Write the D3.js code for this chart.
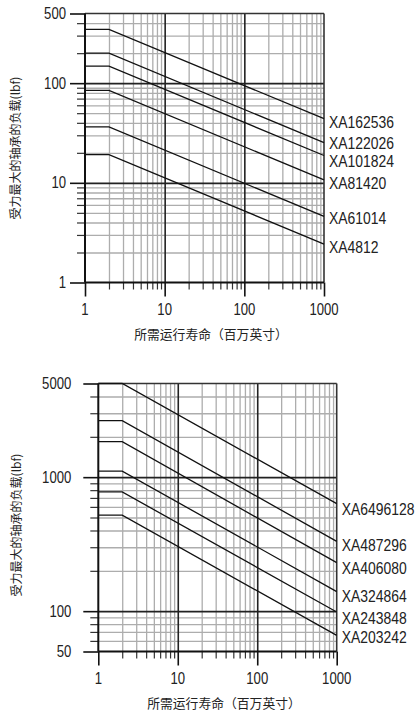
<!DOCTYPE html>
<html><head><meta charset="utf-8">
<script src="https://cdn.jsdelivr.net/npm/d3@7"></script>
<style>
body{margin:0;background:#fff;}
svg{display:block;}
</style></head><body>
<svg id="c" width="420" height="712"></svg>
<script>
// ---- data ----
const lifeTicks = [1, 10, 100, 1000];
const lifeTickLabels = ["1", "10", "100", "1000"];
const lifeBreaks = [1, 2, 1000]; // start, knee, end of each curve (million inches)

const topNames = ["XA162536", "XA122026", "XA101824", "XA81420", "XA61014", "XA4812"];
const topFlat = [346, 200, 148, 84.5, 36.5, 19.2];
const topEnd = [44, 25.3, 18.8, 10.7, 4.6, 2.43];
const topYTicks = [1, 10, 100, 500];
const topYTickLabels = ["1", "10", "100", "500"];

const botNames = ["XA6496128", "XA487296", "XA406080", "XA324864", "XA243848", "XA203242"];
const botFlat = [5000, 2640, 1840, 1110, 776, 520];
const botEnd = [635, 332, 230, 140, 98.5, 66];
const botYTicks = [50, 100, 1000, 5000];
const botYTickLabels = ["50", "100", "1000", "5000"];

const xTitle = "所需运行寿命（百万英寸）";
const yTitle = "受力最大的轴承的负载(lbf)";

// ---- drawing ----
const svg = d3.select("#c");
const NUM_FONT = "'Liberation Sans',Arial,sans-serif";
const CJK_FONT = "'Noto Sans CJK SC',sans-serif";
const NARROW = 0.82;

function narrowText(g, px, py, txt, size, anchor) {
  return g.append("text")
    .attr("transform", `translate(${px},${py}) scale(${NARROW},1)`)
    .attr("text-anchor", anchor).attr("dominant-baseline", "central")
    .attr("font-family", NUM_FONT).attr("font-size", size).attr("fill", "#222").text(txt);
}

function drawChart(cfg) {
  const g = svg.append("g");
  const x = d3.scaleLog().domain([1, 1000]).range([cfg.x0, cfg.x1]);
  const y = d3.scaleLog().domain(cfg.yDomain).range([cfg.y0, cfg.y1]);
  const W = cfg.x1 - cfg.x0, H = cfg.y0 - cfg.y1;
  const xMinor = x.ticks().filter(v => !lifeTicks.includes(v));
  const yMinor = y.ticks().filter(v => !cfg.yTicks.includes(v));
  const xMajorInner = lifeTicks.slice(1, -1);
  const yMajorInner = cfg.yTicks.slice(1, -1);

  function style(sel, color, w) {
    sel.select(".domain").remove();
    sel.selectAll("line").attr("stroke", color).attr("stroke-width", w);
    sel.selectAll("text").remove();
  }
  // minor grid
  g.append("g").attr("transform", `translate(0,${cfg.y0})`)
    .call(d3.axisBottom(x).tickValues(xMinor).tickSize(-H).tickFormat(""))
    .call(s => style(s, "#adadad", 1.3));
  g.append("g").attr("transform", `translate(${cfg.x0},0)`)
    .call(d3.axisLeft(y).tickValues(yMinor).tickSize(-W).tickFormat(""))
    .call(s => style(s, "#adadad", 1.3));
  // minor outer ticks
  g.append("g").attr("transform", `translate(0,${cfg.y0})`)
    .call(d3.axisBottom(x).tickValues(xMinor).tickSize(7).tickFormat(""))
    .call(s => style(s, "#333", 1.2));
  g.append("g").attr("transform", `translate(${cfg.x0},0)`)
    .call(d3.axisLeft(y).tickValues(yMinor).tickSize(8).tickFormat(""))
    .call(s => style(s, "#333", 1.2));
  // major grid
  g.append("g").attr("transform", `translate(0,${cfg.y0})`)
    .call(d3.axisBottom(x).tickValues(xMajorInner).tickSize(-H).tickFormat(""))
    .call(s => style(s, "#222", 1.6));
  g.append("g").attr("transform", `translate(${cfg.x0},0)`)
    .call(d3.axisLeft(y).tickValues(yMajorInner).tickSize(-W).tickFormat(""))
    .call(s => style(s, "#222", 1.6));
  // frame
  g.append("line").attr("x1", cfg.x0).attr("x2", cfg.x1).attr("y1", cfg.y1).attr("y2", cfg.y1)
    .attr("stroke", "#333").attr("stroke-width", 1.6);
  g.append("line").attr("x1", cfg.x1).attr("x2", cfg.x1).attr("y1", cfg.y1).attr("y2", cfg.y0)
    .attr("stroke", "#333").attr("stroke-width", 1.6);
  g.append("line").attr("x1", cfg.x0).attr("x2", cfg.x1).attr("y1", cfg.y0).attr("y2", cfg.y0)
    .attr("stroke", "#111").attr("stroke-width", 1.8);
  g.append("line").attr("x1", cfg.x0).attr("x2", cfg.x0).attr("y1", cfg.y1).attr("y2", cfg.y0)
    .attr("stroke", "#111").attr("stroke-width", 2);

  // major ticks
  g.append("g").attr("transform", `translate(0,${cfg.y0})`)
    .call(d3.axisBottom(x).tickValues(lifeTicks).tickSize(14).tickFormat(""))
    .call(s => style(s, "#111", 1.6));
  g.append("g").attr("transform", `translate(${cfg.x0},0)`)
    .call(d3.axisLeft(y).tickValues(cfg.yTicks).tickSize(15).tickFormat(""))
    .call(s => style(s, "#111", 1.6));
  // tick labels
  lifeTicks.forEach((v, i) => narrowText(g, x(v), cfg.y0 + 27, lifeTickLabels[i], 16, "middle"));
  cfg.yTicks.forEach((v, i) => narrowText(g, cfg.x0 - cfg.yPad, y(v), cfg.yTickLabels[i], 16, "end"));

  // series
  const line = d3.line().x(d => x(d[0])).y(d => y(d[1]));
  cfg.names.forEach((name, i) => {
    const pts = [[lifeBreaks[0], cfg.flat[i]], [lifeBreaks[1], cfg.flat[i]], [lifeBreaks[2], cfg.end[i]]];
    g.append("path").attr("d", line(pts)).attr("fill", "none")
      .attr("stroke", "#111").attr("stroke-width", 1.3);
    narrowText(g, cfg.x1 + 5, y(cfg.end[i]) + cfg.labelShift[i], name, 17, "start");
  });

  // titles
  g.append("text").attr("x", cfg.xTitleX).attr("y", cfg.y0 + 51)
    .attr("text-anchor", "middle").attr("dominant-baseline", "central")
    .attr("font-family", CJK_FONT).attr("font-size", 12.8).attr("fill", "#222").text(xTitle);
  g.append("text").attr("transform", `translate(${cfg.yTitleX},${cfg.yTitleY}) rotate(-90)`)
    .attr("text-anchor", "middle").attr("dominant-baseline", "central")
    .attr("font-family", CJK_FONT).attr("font-size", 12).attr("fill", "#222").text(yTitle);
}

drawChart({
  x0: 85, x1: 324, y0: 282.5, y1: 13.5, yDomain: [1, 500],
  yTicks: topYTicks, yTickLabels: topYTickLabels, yPad: 19,
  names: topNames, flat: topFlat, end: topEnd,
  labelShift: [3, 0, 5, 3, 2, 3],
  xTitleX: 211, yTitleX: 14, yTitleY: 148
});
drawChart({
  x0: 98.3, x1: 336.7, y0: 651.5, y1: 383.5, yDomain: [50, 5000],
  yTicks: botYTicks, yTickLabels: botYTickLabels, yPad: 27,
  names: botNames, flat: botFlat, end: botEnd,
  labelShift: [5, 4, 5, 4, 5.5, 2],
  xTitleX: 224, yTitleX: 15, yTitleY: 525
});
</script>
</body></html>
